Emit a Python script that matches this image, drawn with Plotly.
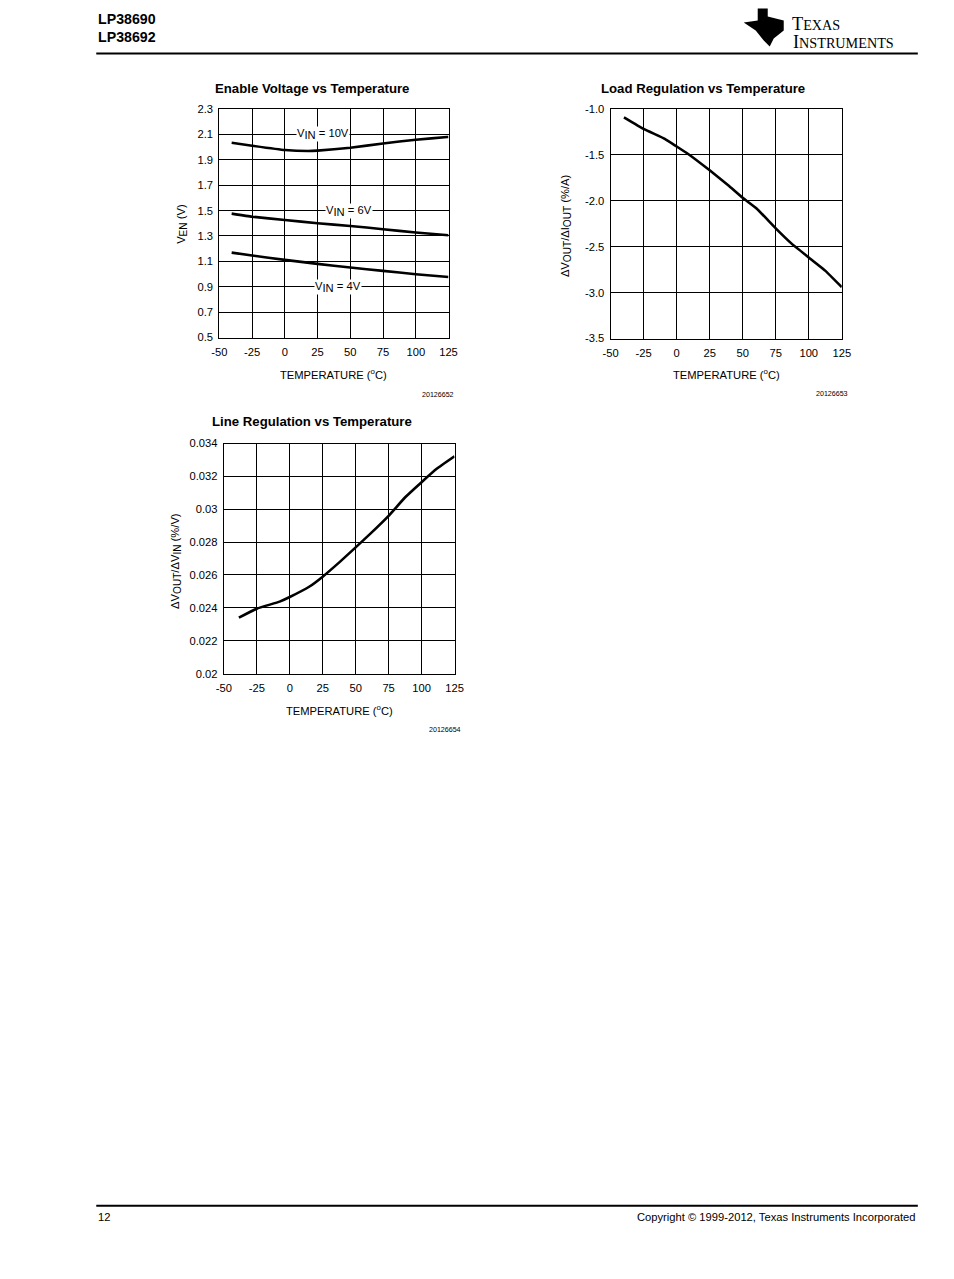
import plotly.graph_objects as go

W, H = 954, 1279
# measured mapping of this renderer: shown = A + S * figure_pixel (compensated below)
AX, SX = 8.8, 0.9815
AY, SY = 5.5, 0.9905
FS = 1.0 / ((SX + SY) / 2)

# ---------------- data ----------------
temp_en = [-40.6, -25, 0, 17.8, 25, 50, 75, 100, 124, 125]
ven_10v = [2.034, 2.011, 1.977, 1.969, 1.972, 1.995, 2.029, 2.058, 2.079, 2.080]
temp_en2 = [-40.6, -25, 0, 25, 50, 75, 100, 125]
ven_6v = [1.476, 1.452, 1.426, 1.400, 1.379, 1.353, 1.327, 1.306]
ven_4v = [1.169, 1.146, 1.112, 1.080, 1.051, 1.025, 0.999, 0.977]

temp_load = [-39.9, -25, -9, 0, 8.7, 25, 39, 50, 60.5, 75, 87, 100, 112.4, 125]
load_reg = [-1.09, -1.217, -1.325, -1.408, -1.49, -1.668, -1.83, -1.967, -2.083, -2.30, -2.466,
            -2.617, -2.76, -2.94]

temp_line = [-38.6, -25, -7.7, 0, 15, 25, 38, 50, 61, 75, 87.6, 100, 111.5, 125]
line_reg = [0.0234, 0.02395, 0.02438, 0.02466, 0.0253, 0.0259, 0.0268, 0.02768, 0.0285,
            0.0296, 0.03073, 0.03165, 0.03246, 0.03322]

x_ticks = [-50, -25, 0, 25, 50, 75, 100, 125]
x_text = ["-50", "-25", "0", "25", "50", "75", "100", "125"]
y1_ticks = [0.5, 0.7, 0.9, 1.1, 1.3, 1.5, 1.7, 1.9, 2.1, 2.3]
y1_text = ["0.5", "0.7", "0.9", "1.1", "1.3", "1.5", "1.7", "1.9", "2.1", "2.3"]
y2_ticks = [-3.5, -3.0, -2.5, -2.0, -1.5, -1.0]
y2_text = ["-3.5", "-3.0", "-2.5", "-2.0", "-1.5", "-1.0"]
y3_ticks = [0.02, 0.022, 0.024, 0.026, 0.028, 0.03, 0.032, 0.034]
y3_text = ["0.02", "0.022", "0.024", "0.026", "0.028", "0.03", "0.032", "0.034"]

label_x = [29.1, 49.0, 40.7]
label_y = [2.1, 1.5, 0.9]
label_vin = ["10V", "6V", "4V"]

FONT = "Liberation Sans, Arial, sans-serif"
SERIF = "Liberation Serif, Times New Roman, serif"


def px(x):
    return ((x - AX) / SX) / W


def py(y):
    return 1 - ((y - AY) / SY) / H


def fs(s):
    return round(s * FS, 1)


def sub(t, size=10):
    return f"<sub><span style='font-size:{fs(size)}px'>{t}</span></sub>"


fig = go.Figure()

line_style = dict(color="black", width=2.6, shape="spline", smoothing=0.3)
fig.add_trace(go.Scatter(x=temp_en, y=ven_10v, mode="lines", line=line_style, xaxis="x", yaxis="y"))
fig.add_trace(go.Scatter(x=temp_en2, y=ven_6v, mode="lines", line=line_style, xaxis="x", yaxis="y"))
fig.add_trace(go.Scatter(x=temp_en2, y=ven_4v, mode="lines", line=line_style, xaxis="x", yaxis="y"))
fig.add_trace(go.Scatter(x=temp_load, y=load_reg, mode="lines", line=line_style, xaxis="x2", yaxis="y2"))
fig.add_trace(go.Scatter(x=temp_line, y=line_reg, mode="lines", line=line_style, xaxis="x3", yaxis="y3"))

ax_common = dict(showgrid=True, gridcolor="black", gridwidth=1, showline=True, linecolor="black",
                 linewidth=1.2, mirror=True, zeroline=False, ticks="outside",
                 tickcolor="rgba(0,0,0,0)", tickfont=dict(family=FONT, size=fs(11), color="black"),
                 fixedrange=True)

xdom1 = [px(220), px(449)]
ydom1 = [py(337), py(108.5)]
xdom2 = [px(611), px(842)]
ydom2 = [py(338), py(108.5)]
xdom3 = [px(224.5), px(455)]
ydom3 = [py(673), py(443)]

fig.update_layout(
    width=W, height=H, margin=dict(l=0, r=0, t=0, b=0),
    paper_bgcolor="white", plot_bgcolor="white", showlegend=False,
    xaxis=dict(domain=xdom1, range=[-50, 125], tickvals=x_ticks, ticktext=x_text, anchor="y", ticklen=4, **ax_common),
    yaxis=dict(domain=ydom1, range=[0.5, 2.3], tickvals=y1_ticks, ticktext=y1_text,
               anchor="x", ticklen=3, **ax_common),
    xaxis2=dict(domain=xdom2, range=[-50, 125], tickvals=x_ticks, ticktext=x_text, anchor="y2", ticklen=4, **ax_common),
    yaxis2=dict(domain=ydom2, range=[-3.5, -1.0], tickvals=y2_ticks, ticktext=y2_text,
                anchor="x2", ticklen=3, **ax_common),
    xaxis3=dict(domain=xdom3, range=[-50, 125], tickvals=x_ticks, ticktext=x_text, anchor="y3", ticklen=4, **ax_common),
    yaxis3=dict(domain=ydom3, range=[0.02, 0.034], tickvals=y3_ticks, ticktext=y3_text,
                anchor="x3", ticklen=3, **ax_common),
)

ann = []


def text(x, y, t, size=11, bold=False, xanchor="center", yanchor="middle", angle=0, family=FONT):
    ann.append(dict(x=px(x), y=py(y), xref="paper", yref="paper", text=(f"<b>{t}</b>" if bold else t),
                    showarrow=False, xanchor=xanchor, yanchor=yanchor, textangle=angle,
                    font=dict(family=family, size=fs(size), color="black")))


# Chart titles
text(313, 88, "Enable Voltage vs Temperature", size=13, bold=True)
text(703, 88, "Load Regulation vs Temperature", size=13, bold=True)
text(313, 421, "Line Regulation vs Temperature", size=13, bold=True)

# Axis titles
xt = "TEMPERATURE (<sup>o</sup>C)"
text(334, 373, xt)
text(727, 373, xt)
text(340, 709, xt)
text(182, 223, "V" + sub("EN") + " (V)", angle=-90)
text(566, 225, "ΔV" + sub("OUT") + "/ΔI" + sub("OUT") + " (%/A)", angle=-90)
text(176, 560, "ΔV" + sub("OUT") + "/ΔV" + sub("IN") + " (%/V)", angle=-90)

# Figure numbers
text(456, 394, "20126652", size=7, xanchor="right")
text(850, 393, "20126653", size=7, xanchor="right")
text(463, 729, "20126654", size=7, xanchor="right")

# Curve labels (on chart 1)
for xv, yv, v in zip(label_x, label_y, label_vin):
    ann.append(dict(x=xv, y=yv, xref="x", yref="y", text="V" + sub("IN", 11) + " = " + v,
                    showarrow=False, bgcolor="white", borderpad=0, xanchor="center", yanchor="middle",
                    yshift=0, font=dict(family=FONT, size=fs(11), color="black")))

# Header / footer
text(97, 18, "LP38690", size=14, bold=True, xanchor="left")
text(97, 36, "LP38692", size=14, bold=True, xanchor="left")
text(790, 23, f"T<span style='font-size:{fs(14)}px'>EXAS</span>", size=18, xanchor="left", family=SERIF)
text(791, 41, f"I<span style='font-size:{fs(14)}px'>NSTRUMENTS</span>", size=18, xanchor="left", family=SERIF)
text(97, 1216, "12", size=11, xanchor="left")
text(918, 1216, "Copyright © 1999-2012, Texas Instruments Incorporated", size=11, xanchor="right")

fig.update_layout(annotations=ann)

logo_pts = [(758, 8), (768, 8), (768, 16), (784, 20), (784, 30), (774, 38), (770, 46), (764, 40),
            (756, 30), (744, 22), (758, 20)]
logo_path = "M " + " L ".join(f"{px(a):.5f} {py(b):.5f}" for a, b in logo_pts) + " Z"

shapes = [
    dict(type="line", xref="paper", yref="paper", x0=px(97), x1=px(918), y0=py(53), y1=py(53),
         line=dict(color="black", width=2)),
    dict(type="line", xref="paper", yref="paper", x0=px(97), x1=px(918), y0=py(1205), y1=py(1205),
         line=dict(color="black", width=2)),
    dict(type="path", xref="paper", yref="paper", path=logo_path,
         fillcolor="black", line=dict(color="black", width=0)),
]
fig.update_layout(shapes=shapes)

fig.write_html("out.html")
